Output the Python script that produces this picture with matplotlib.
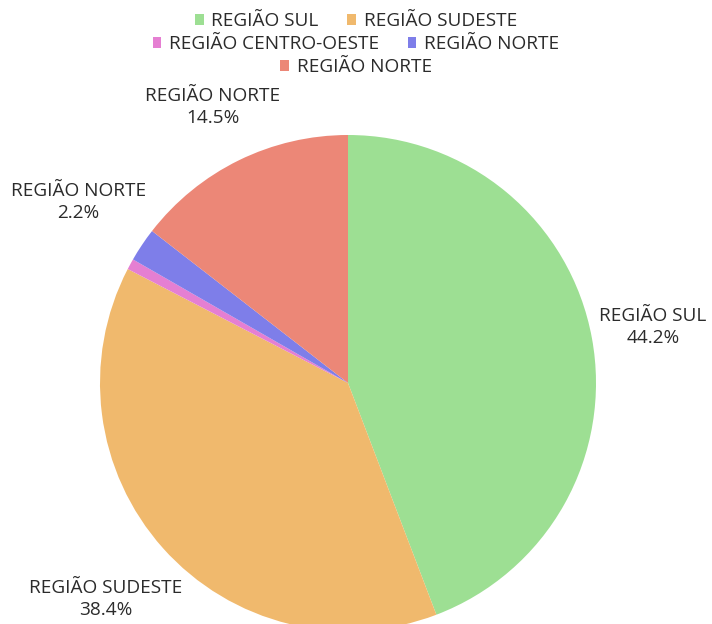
import numpy as np
import matplotlib.pyplot as plt
from matplotlib.patches import Patch

plt.rcParams['font.family'] = ['Open Sans', 'DejaVu Sans']

# dados
regioes = ['REGIÃO SUL', 'REGIÃO SUDESTE', 'REGIÃO CENTRO-OESTE', 'REGIÃO NORTE', 'REGIÃO NORTE']
valores = [44.2, 38.4, 0.7, 2.2, 14.5]
cores = ['#9ddf93', '#f0b96d', '#e57fd2', '#7e7ee9', '#ec8777']
mostrar_rotulo = [True, True, False, True, True]
dist_rotulo = [1.25, 1.31, 1.3, 1.31, 1.24]

fig = plt.figure(figsize=(7.12, 6.24), dpi=100)
ax = fig.add_axes([100 / 712, -7 / 624, 496 / 712, 496 / 624])

wedges, _ = ax.pie(valores, colors=cores, startangle=90, counterclock=False,
                   radius=1, wedgeprops=dict(linewidth=0))

for w, nome, v, show, d in zip(wedges, regioes, valores, mostrar_rotulo, dist_rotulo):
    if not show:
        continue
    ang = np.deg2rad((w.theta1 + w.theta2) / 2)
    x, y = d * np.cos(ang), d * np.sin(ang)
    ax.text(x, y, f'{nome}\n{v:.1f}%', ha='center', va='center',
            fontsize=13.7, color='#2b2b2b', linespacing=1.3)

ax.set_xlim(-1, 1)
ax.set_ylim(-1, 1)
ax.set_aspect('equal')
ax.axis('off')
for w in wedges:
    w.set_clip_on(False)

# legenda em 3 linhas
handles = [Patch(facecolor=c, edgecolor='none') for c in cores]
linhas = [[0, 1], [2, 3], [4]]
ys = [0.966, 0.929, 0.892]
for idx, yy in zip(linhas, ys):
    fig.legend([handles[i] for i in idx], [regioes[i] for i in idx],
               loc='center', bbox_to_anchor=(0.5, yy), ncol=len(idx),
               frameon=False, fontsize=13.7, handlelength=0.45, handleheight=0.45,
               handletextpad=0.4, columnspacing=1.5, borderpad=0, labelcolor='#2b2b2b')

fig.savefig('out.png', dpi=100)
